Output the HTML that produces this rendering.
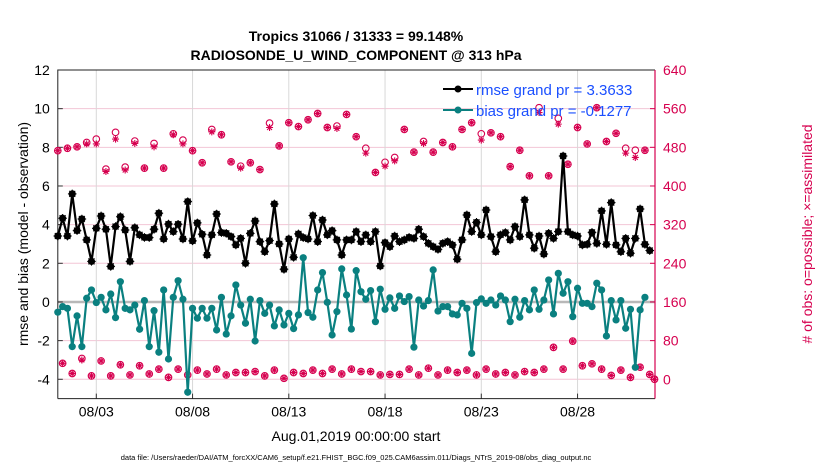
<!DOCTYPE html>
<html><head><meta charset="utf-8"><style>
body{margin:0;background:#fff;}
svg{display:block;font-family:"Liberation Sans",sans-serif;}
</style></head><body>
<svg id="chart" width="830" height="470" viewBox="0 0 830 470">
<text x="356" y="41" text-anchor="middle" font-size="14" font-weight="bold">Tropics 31066 / 31333 = 99.148%</text>
<text x="356" y="60" text-anchor="middle" font-size="14" font-weight="bold">RADIOSONDE_U_WIND_COMPONENT @ 313 hPa</text>
<g id="grid"></g>
<g id="axes"></g>
<g id="series"></g>
<g id="legend">
<line x1="443" y1="89" x2="473" y2="89" stroke="#000" stroke-width="2"/>
<circle cx="458" cy="89" r="3.5" fill="#000"/>
<text x="476" y="95" font-size="15" fill="#1a4fff">rmse grand pr = 3.3633</text>
<line x1="443" y1="110" x2="473" y2="110" stroke="#0a8080" stroke-width="2"/>
<circle cx="458" cy="110" r="3.5" fill="#0a8080"/>
<text x="476" y="116" font-size="15" fill="#1a4fff">bias grand pr = -0.1277</text>
</g>
<text x="356" y="441" text-anchor="middle" font-size="14">Aug.01,2019 00:00:00 start</text>
<text x="356" y="460" text-anchor="middle" font-size="7.5">data file: /Users/raeder/DAI/ATM_forcXX/CAM6_setup/f.e21.FHIST_BGC.f09_025.CAM6assim.011/Diags_NTrS_2019-08/obs_diag_output.nc</text>
<text transform="translate(28,234) rotate(-90)" text-anchor="middle" font-size="14">rmse and bias (model - observation)</text>
<text transform="translate(812,234) rotate(-90)" text-anchor="middle" font-size="14" fill="#d6004f"># of obs: o=possible; ×=assimilated</text>
</svg>
<script>
const rmse=[3.41,4.33,3.41,5.59,3.69,4.29,3.21,2.10,3.81,4.45,3.76,1.84,3.90,4.41,3.72,2.10,3.84,3.47,3.34,3.33,3.76,4.59,3.26,4.03,3.64,4.02,3.26,5.19,3.16,4.09,3.50,2.43,
3.47,4.55,3.59,3.55,3.38,2.95,3.29,2.0,3.55,4.19,3.12,2.60,3.17,5.07,3.0,1.69,3.26,2.31,3.52,3.33,3.26,4.47,3.12,4.24,3.47,3.69,3.21,2.43,3.21,3.21,3.64,
3.12,3.47,3.12,3.64,1.86,3.07,2.86,3.41,3.12,3.21,3.34,3.29,3.76,3.38,3.03,2.86,2.72,3.03,3.12,2.95,2.21,3.21,4.50,3.64,4.12,3.47,4.76,3.38,2.60,3.47,3.59,
3.21,3.90,3.38,5.28,3.47,2.78,3.41,2.48,3.55,3.29,3.64,7.55,3.64,3.47,3.41,2.95,2.98,3.60,3.03,4.71,2.98,5.14,2.95,2.60,3.29,2.52,3.29,4.81,2.98,2.66];
const bias=[-0.53,-0.24,-0.33,-2.31,-0.72,-2.31,0.19,0.62,-0.03,0.24,-0.41,0.41,-0.81,1.05,-0.33,-0.41,-0.16,-1.41,0.07,-2.31,-0.45,-2.60,0.62,-2.95,0.24,1.10,0.14,-4.67,-0.33,-0.84,-0.33,-0.84,
-0.33,-1.45,0.24,-1.66,-0.72,0.88,-0.16,-1.10,0.14,-2.02,0.07,-0.59,-0.16,-1.24,-0.41,-1.19,-0.59,-1.38,-0.67,2.29,-0.55,-0.79,0.62,1.52,-0.02,-1.71,-0.50,1.71,0.36,-1.40,1.62,
0.53,0.14,0.59,-1.02,0.66,-0.38,0.21,-0.33,0.31,0.02,0.28,-2.34,0.10,-0.21,0.07,1.66,-0.47,-0.24,-0.24,-0.62,-0.67,-0.07,-0.33,-2.66,-0.03,0.16,-0.07,0.10,-0.16,0.31,
0.10,-1.02,0.14,-0.79,0.07,-0.41,0.62,-0.38,0.10,1.14,-0.62,1.48,0.45,1.05,-0.76,0.71,-0.07,-0.07,-0.24,0.97,0.62,-1.76,0.07,-0.93,0.07,-1.36,-0.38,-3.38,-0.41,0.24];
const possible=[473,33,478,12,481,43,490,7,497,38,435,7,511,30,439,9,493,28,437,11,488,21,437,4,508,21,495,9,473,19,448,11,
517,21,506,9,450,14,441,14,448,16,434,7,530,19,483,2,531,14,523,12,537,19,550,12,521,21,524,11,548,21,502,
16,478,16,428,9,449,10,459,10,517,21,470,9,492,23,470,9,490,19,481,14,517,19,531,9,508,21,510,11,502,14,
440,9,474,16,421,14,562,21,421,66,540,21,445,79,521,28,487,32,562,21,492,8,509,19,478,4,474,25,474,10,0];
const assimilated=[473,33,478,12,481,40,487,7,487,38,430,7,497,30,433,9,488,28,437,11,481,21,437,4,506,21,487,9,473,19,448,11,
512,21,506,9,450,14,437,14,448,16,434,7,521,19,483,2,531,14,523,12,537,19,550,12,521,21,519,11,548,21,502,
16,468,16,428,9,441,10,452,10,517,21,470,9,488,23,470,9,490,19,481,14,517,19,531,9,495,21,510,11,502,14,
440,9,474,16,421,14,552,21,421,66,528,21,445,79,521,28,487,32,562,21,492,8,509,19,468,4,459,25,474,10,0];
const leftTicks=[-4,-2,0,2,4,6,8,10,12];
const rightTicks=[0,80,160,240,320,400,480,560,640];
const dateTicks=[2,7,12,17,22,27];
const dateLabels=["08/03","08/08","08/13","08/18","08/23","08/28"];

const X0=57.8,X1=655,Y12=70,PX_UNIT=19.33,PX_DAY=19.25;
const xDay=d=>X0+d*PX_DAY;
const xIdx=i=>xDay(i*0.25);
const yL=v=>Y12+(12-v)*PX_UNIT;
const yR=r=>yL(r/40-4);
const YB=yL(-5);
const NS="http://www.w3.org/2000/svg";
function mk(parent,tag,attrs){const e=document.createElementNS(NS,tag);for(const k in attrs)e.setAttribute(k,attrs[k]);parent.appendChild(e);return e;}
const grid=document.getElementById('grid'),axes=document.getElementById('axes'),ser=document.getElementById('series');

leftTicks.forEach(v=>{
  if(v!==0){const g=mk(grid,'line',{x1:X0,x2:X1,y1:yL(v),y2:yL(v),stroke:'#f3c6d6','stroke-width':1});
  
  }
  const t=mk(axes,'text',{x:X0-8,y:yL(v)+5,'text-anchor':'end','font-size':14});t.textContent=v;
  
  
  mk(axes,'line',{x1:X0,x2:X0+5,y1:yL(v),y2:yL(v),stroke:'#333'});
});
rightTicks.forEach(r=>{
  const t=mk(axes,'text',{x:X1+8,y:yR(r)+5,'font-size':14,fill:'#d6004f'});t.textContent=r;
  
  
  mk(axes,'line',{x1:X1-5,x2:X1,y1:yR(r),y2:yR(r),stroke:'#d6004f'});
});
dateTicks.forEach((d,i)=>{
  const g=mk(grid,'line',{x1:xDay(d),x2:xDay(d),y1:Y12,y2:YB,stroke:'#d8d8d8','stroke-width':1});
  
  
  mk(axes,'line',{x1:xDay(d),x2:xDay(d),y1:YB,y2:YB-5,stroke:'#333'});
  const t=mk(axes,'text',{x:xDay(d),y:YB+18,'text-anchor':'middle','font-size':14});t.textContent=dateLabels[i];
  
  
});
const z=mk(grid,'line',{x1:X0,x2:X1,y1:yL(0),y2:yL(0),stroke:'#b8b8b8','stroke-width':2.5});


mk(axes,'path',{d:`M${X0},${YB}V${Y12}H${X1}`,fill:'none',stroke:'#222','stroke-width':1});
mk(axes,'line',{x1:X0,x2:X1,y1:YB,y2:YB,stroke:'#222'});
mk(axes,'line',{x1:X1,x2:X1,y1:Y12,y2:YB,stroke:'#d6004f','stroke-width':1.2});

function star(parent,x,y,s,col,w){
  const d=`M${x-s},${y}H${x+s}M${x},${y-s}V${y+s}M${x-s*.7},${y-s*.7}L${x+s*.7},${y+s*.7}M${x-s*.7},${y+s*.7}L${x+s*.7},${y-s*.7}`;
  return mk(parent,'path',{d:d,stroke:col,'stroke-width':w,fill:'none'});
}
possible.forEach((r,i)=>{
  const c=mk(ser,'circle',{cx:xIdx(i),cy:yR(r),r:3.3,fill:'none',stroke:'#d6004f','stroke-width':1.1});
  
  
});
assimilated.forEach((r,i)=>{
  const s=star(ser,xIdx(i),yR(r),3.5,'#d6004f',1.1);
  
  
});
function line(vals,col,name){
  const p=mk(ser,'polyline',{points:vals.map((v,i)=>xIdx(i)+','+yL(v)).join(' '),fill:'none',stroke:col,'stroke-width':2.2,'stroke-linejoin':'round'});
  
  
  vals.forEach((v,i)=>{
    const c=mk(ser,'circle',{cx:xIdx(i),cy:yL(v),r:3.6,fill:col});
    
    
    if(name==='rmse')star(ser,xIdx(i),yL(v),4.3,col,1);
  });
}
line(bias,'#0a8080','bias');
line(rmse,'#000','rmse');
</script>
</body></html>
